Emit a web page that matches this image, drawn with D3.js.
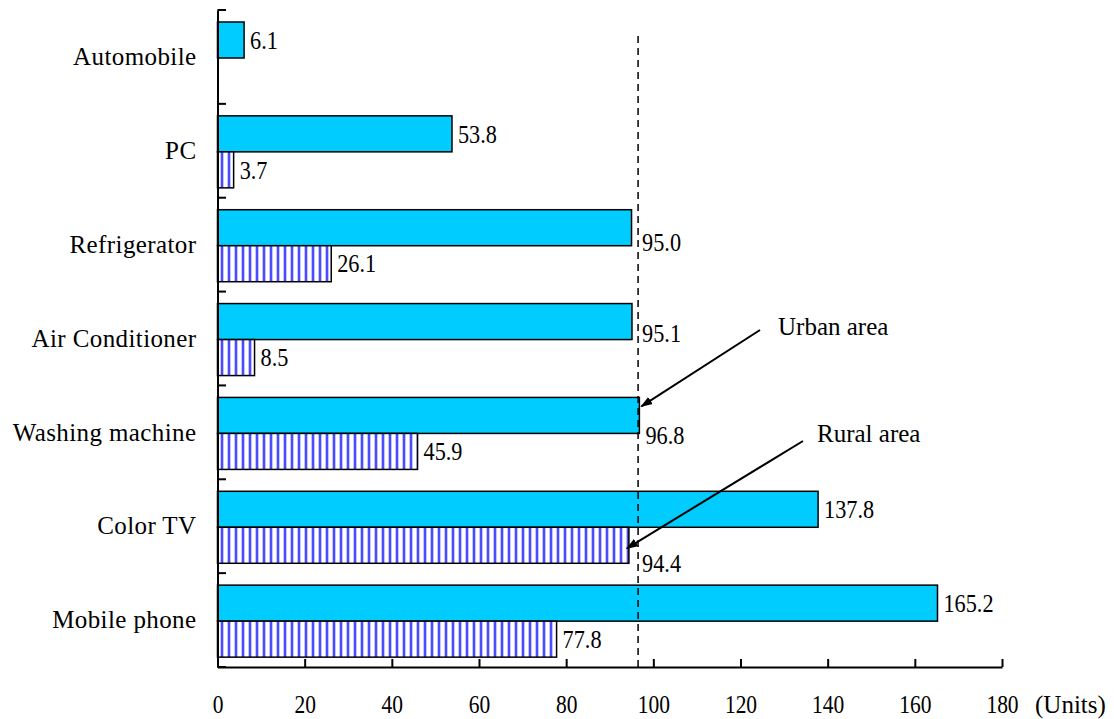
<!DOCTYPE html>
<html><head><meta charset="utf-8">
<script src="https://cdn.jsdelivr.net/npm/d3@7"></script>
<style>body{margin:0;background:#fff}svg{display:block}</style>
</head><body>
<svg id="c" width="1114" height="719"></svg>
<script>
const categories = ["Automobile","PC","Refrigerator","Air Conditioner","Washing machine","Color TV","Mobile phone"];
const urbanValues = [6.1, 53.8, 95.0, 95.1, 96.8, 137.8, 165.2];
const ruralValues = [null, 3.7, 26.1, 8.5, 45.9, 94.4, 77.8];
const xTicks = [0,20,40,60,80,100,120,140,160,180];
const refValue = 96.5;
const unitLabel = "(Units)";
const annotations = [{text:"Urban area", series:"urban", cat:"Washing machine"},{text:"Rural area", series:"rural", cat:"Color TV"}];

const FONT = "'Liberation Serif','Times New Roman','DejaVu Serif',serif";
const NUM_SX = 0.89, TICK_SX = 0.86;

const svg = d3.select("#c");
const x = d3.scaleLinear().domain([0,180]).range([217.5,1002]);
const y = d3.scaleBand().domain(categories).range([10,667]);
const barTop = 12, barH = 36;

const defs = svg.append("defs");
const pat = defs.append("pattern").attr("id","vstripe").attr("patternUnits","userSpaceOnUse")
  .attr("width",7).attr("height",10).attr("x",217.5);
pat.append("rect").attr("width",7).attr("height",10).attr("fill","#fff");
pat.append("rect").attr("x",3.5).attr("width",2).attr("height",10).attr("fill","#1010ff");

function numText(sel, X, Y, str, sx){
  return sel.append("text").attr("transform",`translate(${X},${Y}) scale(${sx},1)`)
    .attr("dy","0.35em").style("font-family",FONT).style("font-size","25px").attr("fill","#000").text(str);
}

// bars
const g = svg.append("g");
g.selectAll(".u").data(categories).join("rect")
  .attr("x",x(0)).attr("y",(d)=>y(d)+barTop)
  .attr("width",(d,i)=>x(urbanValues[i])-x(0)).attr("height",barH)
  .attr("fill","#00ccff").attr("stroke","#000").attr("stroke-width",1.5);
g.selectAll(".r").data(categories.filter((d,i)=>ruralValues[i]!=null)).join("rect")
  .attr("x",x(0)).attr("y",(d)=>y(d)+barTop+barH)
  .attr("width",(d)=>x(ruralValues[categories.indexOf(d)])-x(0)).attr("height",barH)
  .attr("fill","url(#vstripe)").attr("stroke","#000").attr("stroke-width",1.5);

// value labels; those touching the reference line are nudged down/right of it
const nudgeUrban = {"Refrigerator":15, "Air Conditioner":12, "Washing machine":20};
const nudgeRural = {"Color TV":18};
categories.forEach((c,i)=>{
  const u = urbanValues[i];
  const nu = nudgeUrban[c];
  const ux = nu!=null ? Math.max(x(u)+6, x(refValue)+4) : x(u)+6;
  numText(g, ux, y(c)+barTop+barH/2+(nu||0), u.toFixed(1), NUM_SX);
  const r = ruralValues[i];
  if(r!=null){
    const nr = nudgeRural[c];
    const rx = nr!=null ? Math.max(x(r)+6, x(refValue)+4) : x(r)+6;
    numText(g, rx, y(c)+barTop+barH*1.5+(nr||0), r.toFixed(1), NUM_SX);
  }
});

// reference dashed line
svg.append("line").attr("x1",x(refValue)).attr("x2",x(refValue)).attr("y1",36).attr("y2",667)
  .attr("stroke","#000").attr("stroke-width",1.5).attr("stroke-dasharray","7,5");

// axes
const xAxis = svg.append("g").attr("transform","translate(0,667)")
  .call(d3.axisBottom(x).tickValues(xTicks).tickSizeInner(-8).tickSizeOuter(0).tickPadding(28));
xAxis.select(".domain").attr("stroke","#000").attr("stroke-width",2);
xAxis.selectAll(".tick line").attr("stroke","#000").attr("stroke-width",2);
xAxis.selectAll("text").style("font-family",FONT).style("font-size","25px").attr("fill","#000")
  .attr("transform",`scale(${TICK_SX},1)`);

const yAxis = svg.append("g").attr("transform","translate(217.5,0)")
  .call(d3.axisLeft(y).tickSize(0).tickPadding(21));
yAxis.select(".domain").attr("stroke","#000").attr("stroke-width",2);
yAxis.selectAll("text").style("font-family",FONT).style("font-size","25px").attr("fill","#000")
  .style("letter-spacing","0.4px").attr("dy","0.33em");
const bounds = categories.map(c=>y(c)).concat([667]);
svg.append("g").selectAll("line").data(bounds).join("line")
  .attr("x1",217.5).attr("x2",226).attr("y1",d=>d).attr("y2",d=>d)
  .attr("stroke","#000").attr("stroke-width",2);

svg.append("text").attr("x",1035).attr("y",713).style("font-family",FONT).style("font-size","25px").text(unitLabel);

// annotations
defs.append("marker").attr("id","arr").attr("viewBox","0 0 10 10").attr("refX",9).attr("refY",5)
  .attr("markerWidth",6).attr("markerHeight",6).attr("orient","auto")
  .append("path").attr("d","M0,1.5 L10,5 L0,8.5 Z").attr("fill","#000");
const ann = annotations.map(a=>{
  const i = categories.indexOf(a.cat);
  if(a.series==="urban") return {t:a.text, tx:778, ty:335, sx:760, sy:330, ex:x(urbanValues[i])+2, ey:y(a.cat)+barTop+9};
  return {t:a.text, tx:817, ty:442, sx:803, sy:441, ex:x(ruralValues[i])-2, ey:y(a.cat)+barTop+barH+21};
});
ann.forEach(a=>{
  svg.append("line").attr("x1",a.sx).attr("y1",a.sy).attr("x2",a.ex).attr("y2",a.ey)
    .attr("stroke","#000").attr("stroke-width",2).attr("marker-end","url(#arr)");
  svg.append("text").attr("x",a.tx).attr("y",a.ty).style("font-family",FONT).style("font-size","25px").text(a.t);
});
</script>
</body></html>
